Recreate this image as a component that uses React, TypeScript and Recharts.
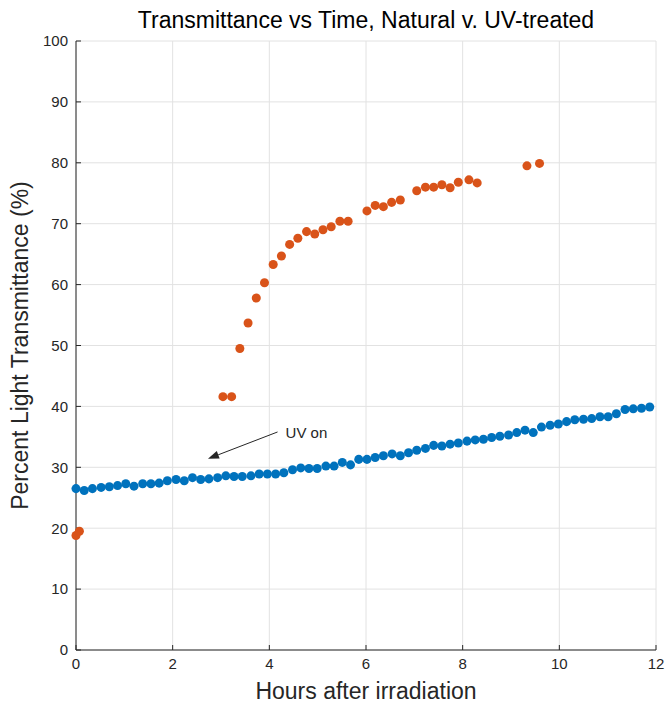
import { ScatterChart, Scatter, XAxis, YAxis, CartesianGrid, ReferenceLine, ZAxis } from "recharts";

// blue series (natural)
const naturalHours = [
  0, 0.17, 0.34, 0.52, 0.69, 0.86, 1.03, 1.2, 1.38, 1.55,
  1.72, 1.89, 2.07, 2.24, 2.41, 2.58, 2.75, 2.93, 3.1, 3.27,
  3.44, 3.62, 3.79, 3.96, 4.13, 4.3, 4.48, 4.65, 4.82, 4.99,
  5.17, 5.34, 5.51, 5.68, 5.85, 6.02, 6.19, 6.36, 6.54, 6.71,
  6.88, 7.05, 7.23, 7.4, 7.57, 7.74, 7.91, 8.09, 8.26, 8.43,
  8.6, 8.77, 8.95, 9.12, 9.29, 9.46, 9.63, 9.81, 9.98, 10.15,
  10.32, 10.5, 10.67, 10.84, 11.01, 11.18, 11.36, 11.53, 11.7, 11.87,
];
const naturalPct = [
  26.5, 26.2, 26.5, 26.7, 26.8, 27.0, 27.3, 26.9, 27.3, 27.3,
  27.4, 27.8, 28.0, 27.8, 28.3, 28.0, 28.1, 28.3, 28.6, 28.5,
  28.5, 28.6, 28.9, 28.9, 28.9, 29.1, 29.6, 29.9, 29.8, 29.8,
  30.2, 30.2, 30.8, 30.4, 31.3, 31.3, 31.6, 31.9, 32.2, 31.9,
  32.4, 32.8, 33.1, 33.6, 33.5, 33.8, 34.0, 34.3, 34.5, 34.6,
  34.9, 35.1, 35.3, 35.7, 36.1, 35.7, 36.6, 36.9, 37.1, 37.5,
  37.8, 37.9, 38.0, 38.3, 38.3, 38.8, 39.5, 39.6, 39.7, 39.9,
];

// orange series (UV-treated)
const uvHours = [
  0, 0.07, 3.04, 3.22, 3.39, 3.56, 3.73, 3.9, 4.08, 4.25,
  4.42, 4.59, 4.77, 4.94, 5.11, 5.28, 5.46, 5.63, 6.02, 6.19,
  6.36, 6.53, 6.71, 7.05, 7.23, 7.4, 7.57, 7.74, 7.91, 8.13,
  8.3, 9.33, 9.59,
];
const uvPct = [
  18.8, 19.5, 41.6, 41.6, 49.5, 53.7, 57.8, 60.3, 63.3, 64.7,
  66.6, 67.6, 68.7, 68.3, 69.0, 69.5, 70.4, 70.4, 72.1, 73.0,
  72.8, 73.5, 73.9, 75.4, 76.0, 76.0, 76.4, 75.9, 76.8, 77.2,
  76.7, 79.5, 79.9,
];

const xTicks = [0, 2, 4, 6, 8, 10, 12];
const yTicks = [0, 10, 20, 30, 40, 50, 60, 70, 80, 90, 100];

// annotation arrow: tail then tip
const arrowFrom = { x: 4.17, y: 35.8 };
const arrowTo = { x: 2.73, y: 31.4 };

const natural = naturalHours.map((h, i) => ({ h, pct: naturalPct[i] }));
const uvTreated = uvHours.map((h, i) => ({ h, pct: uvPct[i] }));

const font = '"Liberation Sans", Arial, Helvetica, sans-serif';
const ink = "#262626";

const Arrow = (props: any) => {
  const { x1, y1, x2, y2 } = props;
  const ang = Math.atan2(y2 - y1, x2 - x1);
  const len = 11;
  const half = 4;
  const bx = x2 - len * Math.cos(ang);
  const by = y2 - len * Math.sin(ang);
  const p1 = `${bx + half * Math.sin(ang)},${by - half * Math.cos(ang)}`;
  const p2 = `${bx - half * Math.sin(ang)},${by + half * Math.cos(ang)}`;
  return (
    <g>
      <line x1={x1} y1={y1} x2={bx} y2={by} stroke={ink} strokeWidth={1} />
      <polygon points={`${x2},${y2} ${p1} ${p2}`} fill={ink} />
      <text x={x1 + 8} y={y1 + 2} fontSize={15} fontFamily={font} fill={ink} dominantBaseline="middle">
        UV on
      </text>
    </g>
  );
};

export default function App() {
  return (
    <div style={{ position: "absolute", left: 0, top: 0, width: 668, height: 705, background: "#fff" }}>
      <div
        style={{
          position: "absolute",
          left: 76,
          width: 580,
          top: 8,
          textAlign: "center",
          fontFamily: font,
          fontSize: 23,
          lineHeight: "24px",
          color: "#000",
        }}
      >
        Transmittance vs Time, Natural v. UV-treated
      </div>
      <ScatterChart width={668} height={705} margin={{ top: 41, right: 12, bottom: 0, left: 0 }}>
        <CartesianGrid stroke="#e2e2e2" />
        <XAxis
          type="number"
          dataKey="h"
          domain={[0, 12]}
          ticks={xTicks}
          interval={0}
          height={55}
          tickSize={-5}
          tickMargin={13}
          axisLine={{ stroke: ink }}
          tickLine={{ stroke: ink }}
          tick={{ fill: ink, fontSize: 15, fontFamily: font }}
          label={{
            value: "Hours after irradiation",
            position: "insideBottom",
            offset: 6,
            fill: ink,
            fontSize: 23,
            fontFamily: font,
          }}
        />
        <YAxis
          type="number"
          dataKey="pct"
          domain={[0, 100]}
          ticks={yTicks}
          interval={0}
          width={76}
          tickSize={-5}
          tickMargin={13}
          axisLine={{ stroke: ink }}
          tickLine={{ stroke: ink }}
          tick={{ fill: ink, fontSize: 15, fontFamily: font }}
          label={{
            content: (p: any) => {
              const vb = p.viewBox || {};
              const cx = 22;
              const cy = vb.y + vb.height / 2;
              return (
                <text
                  x={cx}
                  y={cy}
                  transform={`rotate(-90, ${cx}, ${cy})`}
                  textAnchor="middle"
                  dominantBaseline="middle"
                  fontSize={23}
                  fontFamily={font}
                  fill={ink}
                >
                  Percent Light Transmittance (%)
                </text>
              );
            },
          }}
        />
        <ZAxis range={[64, 64]} />
        <Scatter data={natural} fill="#0072BD" isAnimationActive={false} />
        <Scatter data={uvTreated} fill="#D95319" isAnimationActive={false} />
        <ReferenceLine segment={[arrowFrom, arrowTo]} shape={Arrow} />
      </ScatterChart>
    </div>
  );
}
